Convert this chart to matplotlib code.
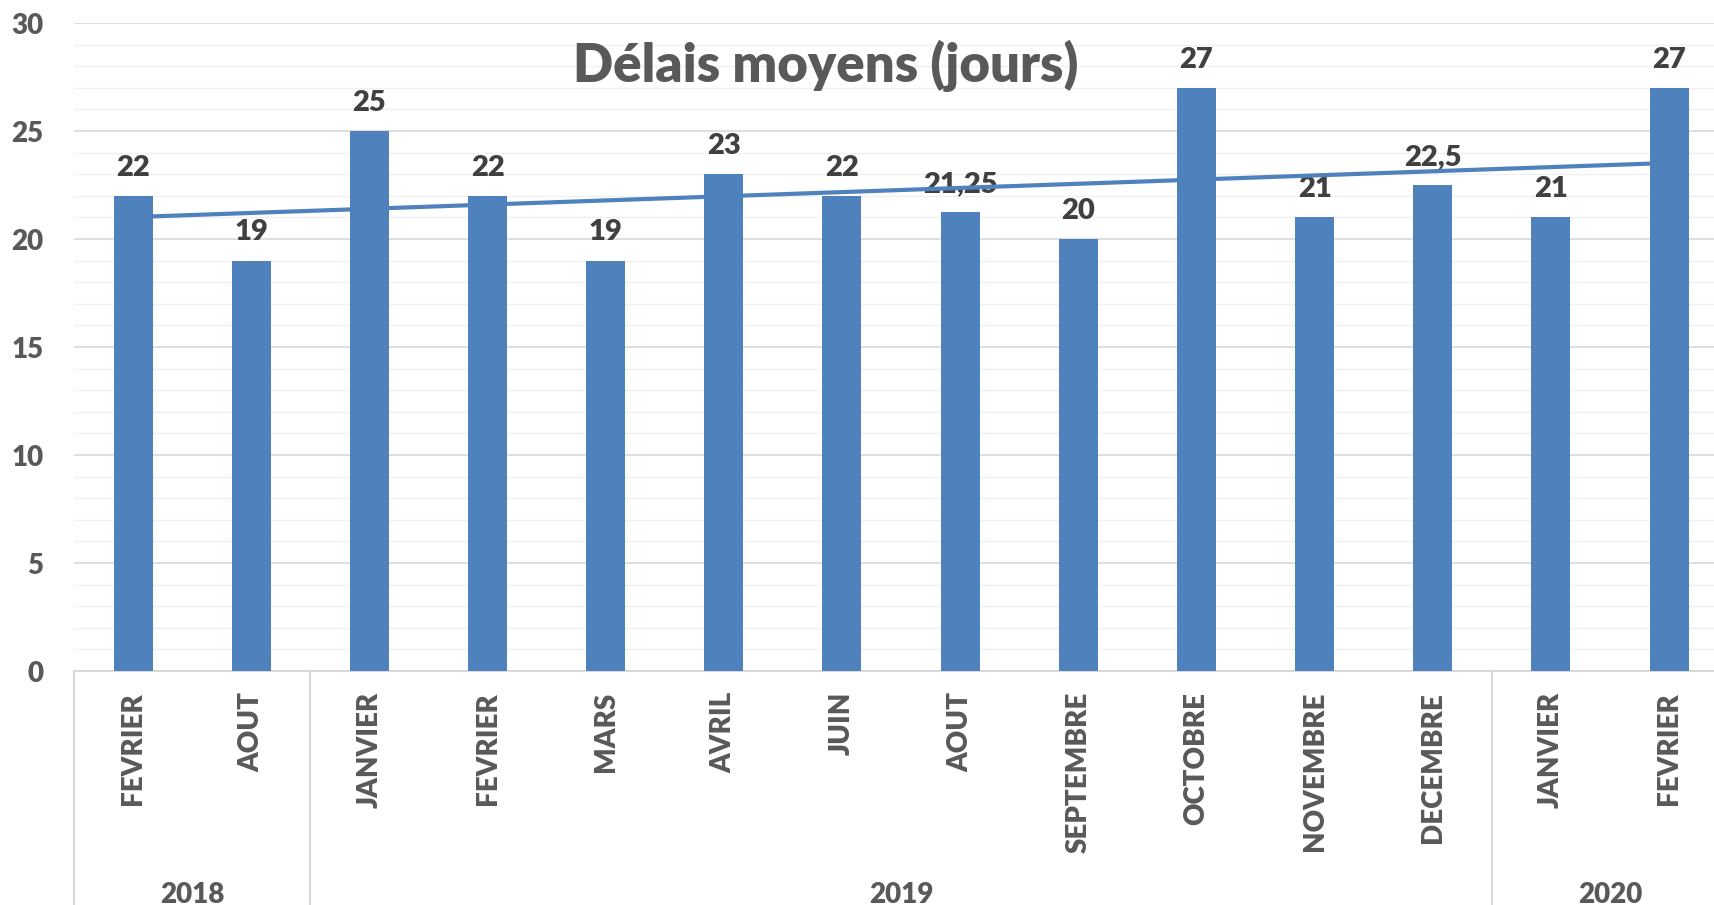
import numpy as np
import matplotlib
matplotlib.use("Agg")
import matplotlib.pyplot as plt
import matplotlib.transforms as mtransforms

# donnees
mois = ["FEVRIER", "AOUT", "JANVIER", "FEVRIER", "MARS", "AVRIL", "JUIN",
        "AOUT", "SEPTEMBRE", "OCTOBRE", "NOVEMBRE", "DECEMBRE", "JANVIER", "FEVRIER"]
delais = [22, 19, 25, 22, 19, 23, 22, 21.25, 20, 27, 21, 22.5, 21, 27]
annees = ["2018", "2019", "2020"]
nb_par_annee = [2, 10, 2]

titre = "Délais moyens (jours)"

plt.rcParams['font.family'] = ['Lato', 'DejaVu Sans']
POIDS = 800
plt.rcParams['font.weight'] = POIDS

W, H = 1715, 905
fig = plt.figure(figsize=(W / 100, H / 100), dpi=100)

# position des axes en pixels
x0, x1 = 74, 1715
y_axe, y_haut = 671, 23
ax = fig.add_axes([x0 / W, 1 - y_axe / H, (x1 - x0) / W, (y_axe - y_haut) / H])

bleu = "#4F81BD"
gris_txt = "#595959"
gris_lbl = "#404040"

x = np.arange(len(delais))
ax.bar(x, delais, width=0.33, color=bleu, zorder=3)

# courbe de tendance lineaire
a, b = np.polyfit(x, delais, 1)
ax.plot([x[0], x[-1]], [b, a * x[-1] + b], color=bleu, lw=3, zorder=2.5,
        solid_capstyle='butt')

# etiquettes de donnees
for xi, v in zip(x, delais):
    ax.annotate(f"{v:g}".replace('.', ','), (xi, v), xytext=(0, 14.5),
                textcoords='offset points', ha='center', va='baseline',
                fontsize=21, color=gris_lbl, fontweight=POIDS, zorder=2)

ax.set_ylim(0, 30)
ax.set_xlim(-0.5, -0.5 + (x1 - x0) / 118.15)
ax.set_yticks(np.arange(0, 31, 5))
ax.set_yticks(np.arange(0, 31, 1), minor=True)
ax.grid(axis='y', which='major', color='#D9D9D9', lw=1.2, zorder=0)
ax.grid(axis='y', which='minor', color='#F0F0F0', lw=1.0, zorder=0)
ax.set_axisbelow(True)

for s in ['top', 'right', 'left']:
    ax.spines[s].set_visible(False)
ax.spines['bottom'].set_color('#D9D9D9')
ax.spines['bottom'].set_linewidth(1.5)

ax.set_xticks(x)
ax.set_xticklabels(mois, rotation=90, fontsize=20, color=gris_txt, fontweight=POIDS)
ax.tick_params(axis='x', length=0, pad=15)
ax.tick_params(axis='y', which='both', length=0, pad=22, labelsize=20,
               labelcolor=gris_txt)
for t in ax.get_yticklabels():
    t.set_fontweight(POIDS)

# separateurs et annees
trans = mtransforms.blended_transform_factory(ax.transData, ax.transAxes)
h_ax = y_axe - y_haut
bas = -(H - y_axe) / h_ax
debut = -0.5
for an, n in zip(annees, nb_par_annee):
    ax.plot([debut, debut], [0, bas], transform=trans, color='#D9D9D9', lw=1.5,
            clip_on=False)
    ax.text(debut + n / 2, -(903 - y_axe) / h_ax, an, transform=trans,
            ha='center', va='baseline', fontsize=20, color=gris_txt,
            fontweight=POIDS)
    debut += n
ax.plot([debut, debut], [0, bas], transform=trans, color='#D9D9D9', lw=1.5,
        clip_on=False)

fig.text(826 / W, 1 - 82 / H, titre, ha='center', va='baseline', fontsize=38,
         color=gris_txt, fontweight=POIDS)

fig.savefig("out.png", dpi=100)
